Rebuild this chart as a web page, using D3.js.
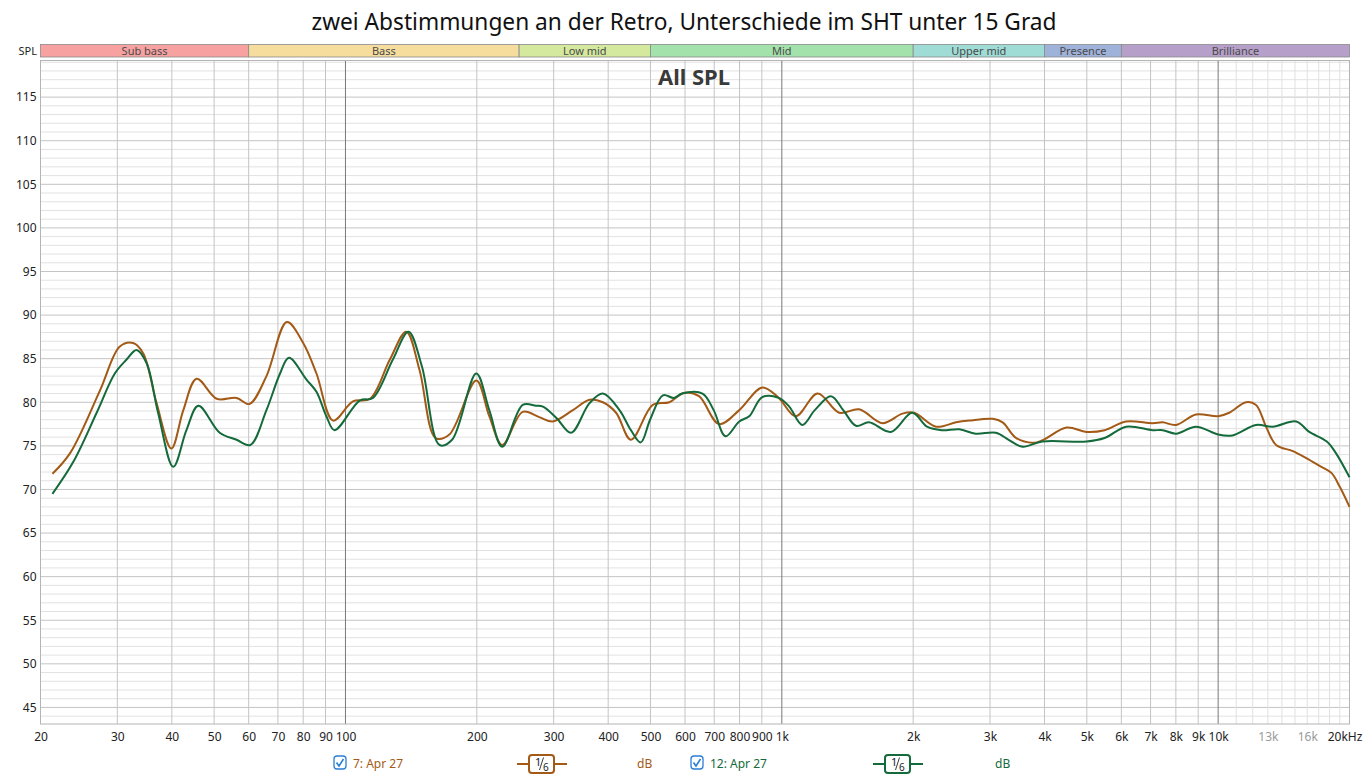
<!DOCTYPE html>
<html>
<head>
<meta charset="utf-8">
<script src="https://cdn.jsdelivr.net/npm/d3@7"></script>
<style>
  body { margin: 0; background: #fff; }
  svg { display: block; font-family: "Noto Sans", "Open Sans", sans-serif; }
</style>
</head>
<body>
<svg id="chart" width="1369" height="775"></svg>
<script>
// measurement 7: Apr 27 (orange)
const freqA = [21.3, 23.4, 27.4, 30.4, 32.6, 34.4, 36.9, 39.9, 42.5, 45.6, 50.7, 56.3, 60.2, 65.9, 73.4, 80, 85.8, 93.7,
  104, 113.8, 126.4, 137.8, 147.8, 161, 173, 199.4, 213.6, 228.7, 254.8, 278, 298.6, 332, 362.5, 389, 417, 451, 506,
  552, 598, 646, 718, 799, 902, 984, 1076, 1208, 1354, 1504, 1702, 1890, 2010, 2258, 2508, 2690, 3042, 3207, 3446,
  3843, 4492, 4991, 5492, 6152, 7078, 7464, 8006, 8894, 10000, 10600, 11590, 12212, 12877, 13578, 14830, 15920,
  17090, 18180, 19000, 20000];
const splA = [71.8, 74.2, 81.4, 86.4, 86.8, 85.6, 79.9, 74.7, 79.1, 82.7, 80.4, 80.5, 79.8, 83.0, 89.2, 86.8, 83.3, 77.9,
  80.1, 80.4, 84.9, 88.1, 83.7, 75.9, 76.3, 82.5, 78.4, 75.1, 78.9, 78.3, 77.8, 79.1, 80.3, 80.0, 78.8, 75.7, 79.7,
  80.0, 81.1, 80.7, 77.5, 79.1, 81.7, 80.5, 78.4, 81.0, 78.8, 79.2, 77.6, 78.7, 78.8, 77.2, 77.7, 77.9, 78.1, 77.7, 75.9,
  75.4, 77.1, 76.6, 76.8, 77.8, 77.6, 77.7, 77.4, 78.6, 78.4, 78.8, 80.0, 79.7, 77.2, 75.1, 74.4, 73.6,
  72.7, 71.9, 70.3, 68.0];

// measurement 12: Apr 27 (green)
const freqB = [21.3, 23.8, 26.9, 29.6, 31.5, 33.2, 35.0, 37.2, 40.3, 43.2, 46.0, 51.5, 56.3, 60.5, 65.9, 70.8, 74.2, 81.4,
  85.8, 90.4, 94.4, 107.8, 115.6, 128.4, 139.4, 149.7, 164.3, 175.5, 199.4, 213.6, 228.7, 254.8, 273.4, 283.5, 304.4,
  328.8, 362.5, 389, 424.6, 451, 475, 499, 534, 566, 591, 658, 698, 743, 799, 842, 902, 984, 1040, 1114, 1190, 1296,
  1383, 1479, 1584, 1778, 1990, 2152, 2324, 2552, 2782, 3094, 3310, 3560, 3952, 4991, 5492, 6152, 7078, 7464, 8006,
  8894, 10000, 10770, 12212, 13333, 15100, 16170, 17740, 18600, 20000];
const splB = [69.5, 73.2, 78.8, 83.3, 84.9, 86.0, 84.5, 78.8, 72.6, 76.8, 79.6, 76.5, 75.7, 75.1, 79.1, 83.3, 85.1, 82.6,
  81.2, 78.4, 76.8, 80.2, 80.5, 84.9, 88.1, 84.1, 75.1, 75.7, 83.3, 79.1, 74.9, 79.7, 79.6, 79.5, 78.2,
  76.5, 79.9, 81.0, 79.1, 76.8, 75.4, 78.0, 80.8, 80.5, 81.0, 81.0, 79.1, 76.1, 77.8, 78.4, 80.6, 80.5, 79.5, 77.4, 79.1, 80.7,
  79.1, 77.3, 77.7, 76.6, 78.8, 77.2, 76.8, 76.9, 76.4, 76.5, 75.7, 74.9, 75.5, 75.5, 75.9, 77.2, 76.8, 76.8, 76.4,
  77.2, 76.3, 76.2, 77.4, 77.2, 77.8, 76.6, 75.5, 74.2, 71.4];

// frequency bands shown above the plot
const bandNames = ["Sub bass", "Bass", "Low mid", "Mid", "Upper mid", "Presence", "Brilliance"];
const bandEdges = [20, 60, 250, 500, 2000, 4000, 6000, 20000];
const bandColors = ["#f7a1a1", "#f6dd9e", "#d4e89e", "#a3e2ab", "#9fdcd6", "#9fb2da", "#b6a0c9"];

const xTickValues = [20, 30, 40, 50, 60, 70, 80, 90, 100, 200, 300, 400, 500, 600, 700, 800, 900,
  1000, 2000, 3000, 4000, 5000, 6000, 7000, 8000, 9000, 10000, 13000, 16000, 20000];
const xTickLabels = ["20", "30", "40", "50", "60", "70", "80", "90", "100", "200", "300", "400", "500", "600", "700", "800", "900",
  "1k", "2k", "3k", "4k", "5k", "6k", "7k", "8k", "9k", "10k", "13k", "16k", "20kHz"];
const yTickValues = [45, 50, 55, 60, 65, 70, 75, 80, 85, 90, 95, 100, 105, 110, 115];

const colorA = "#a35a16", colorB = "#146a3b";

const svg = d3.select("#chart");
const plotLeft = 40.5, plotRight = 1349.5, plotTop = 60.5, plotBottom = 724;

const x = d3.scaleLog().domain([20, 20000]).range([plotLeft, plotRight]);
const y = d3.scaleLinear().domain([43.1, 119.2]).range([plotBottom, plotTop]);

// title
svg.append("text")
  .attr("x", 684).attr("y", 30)
  .attr("text-anchor", "middle")
  .attr("font-size", "22.7px")
  .attr("fill", "#111")
  .text("zwei Abstimmungen an der Retro, Unterschiede im SHT unter 15 Grad");

// band header
const bands = svg.append("g");
bandNames.forEach((name, i) => {
  const x0 = x(bandEdges[i]), x1 = x(bandEdges[i + 1]);
  bands.append("rect")
    .attr("x", x0).attr("y", 44.5)
    .attr("width", x1 - x0).attr("height", 12.5)
    .attr("fill", bandColors[i])
    .attr("stroke", "#8a8a8a").attr("stroke-width", 0.8);
  bands.append("text")
    .attr("x", (x0 + x1) / 2).attr("y", 54.5)
    .attr("text-anchor", "middle")
    .attr("font-size", "11px")
    .attr("fill", "#4a4a4a")
    .text(name);
});
svg.append("text")
  .attr("x", 37).attr("y", 54.5)
  .attr("text-anchor", "end")
  .attr("font-size", "11px")
  .attr("fill", "#222")
  .text("SPL");

// grid
const grid = svg.append("g");
d3.range(44, 120).forEach(v => {
  grid.append("line")
    .attr("x1", plotLeft).attr("x2", plotRight)
    .attr("y1", y(v)).attr("y2", y(v))
    .attr("stroke", v % 5 === 0 ? "#c4c4c4" : "#e2e2e2")
    .attr("stroke-width", 1);
});

const vLines = [];
[10, 100, 1000].forEach(d => d3.range(2, 10).forEach(m => vLines.push(m * d)));
vLines.push(100, 1000, 10000);
d3.range(11000, 20000, 1000).forEach(f => vLines.push(f));
vLines.filter(f => f > 20 && f < 20000).forEach(f => {
  let c = "#c4c4c4";
  if (f === 100 || f === 1000 || f === 10000) c = "#7a7a7a";
  else if (f > 10000) c = "#e0e0e0";
  grid.append("line")
    .attr("x1", x(f)).attr("x2", x(f))
    .attr("y1", plotTop).attr("y2", plotBottom)
    .attr("stroke", c).attr("stroke-width", 1);
});

svg.append("rect")
  .attr("x", plotLeft).attr("y", plotTop)
  .attr("width", plotRight - plotLeft).attr("height", plotBottom - plotTop)
  .attr("fill", "none")
  .attr("stroke", "#b4b4b4");

// axes
const xAxis = svg.append("g")
  .attr("transform", `translate(0,${plotBottom})`)
  .call(d3.axisBottom(x).tickValues(xTickValues).tickSize(0).tickPadding(8)
    .tickFormat((d, i) => xTickLabels[i]));
xAxis.select(".domain").remove();
xAxis.selectAll("text")
  .attr("font-size", "12px")
  .attr("font-family", "\"Noto Sans\", sans-serif")
  .attr("fill", d => (d === 13000 || d === 16000) ? "#9a9a9a" : "#222");
xAxis.selectAll(".tick").filter(d => d === 20000).select("text").attr("dx", "-5");

const yAxis = svg.append("g")
  .attr("transform", `translate(${plotLeft},0)`)
  .call(d3.axisLeft(y).tickValues(yTickValues).tickSize(0).tickPadding(4));
yAxis.select(".domain").remove();
yAxis.selectAll("text")
  .attr("font-size", "12px")
  .attr("font-family", "\"Noto Sans\", sans-serif")
  .attr("fill", "#222");

// overlay label
svg.append("text")
  .attr("x", 694).attr("y", 85)
  .attr("text-anchor", "middle")
  .attr("font-size", "22px")
  .attr("font-weight", "bold")
  .attr("fill", "#3a3a3a")
  .text("All SPL");

// curves
const line = d3.line()
  .x(d => x(d[0]))
  .y(d => y(d[1]))
  .curve(d3.curveCatmullRom.alpha(0.5));

svg.append("path")
  .datum(freqA.map((f, i) => [f, splA[i]]))
  .attr("d", line)
  .attr("fill", "none")
  .attr("stroke", colorA)
  .attr("stroke-width", 2);

svg.append("path")
  .datum(freqB.map((f, i) => [f, splB[i]]))
  .attr("d", line)
  .attr("fill", "none")
  .attr("stroke", colorB)
  .attr("stroke-width", 2);

// legend
function legendItem(x0, label, color, symX, dbX) {
  const g = svg.append("g");
  g.append("rect")
    .attr("x", x0).attr("y", 756)
    .attr("width", 12).attr("height", 13)
    .attr("rx", 3)
    .attr("fill", "#fff")
    .attr("stroke", "#2a7fd6").attr("stroke-width", 1.3);
  g.append("path")
    .attr("d", `M${x0 + 2.5},${762.5} L${x0 + 5},${766} L${x0 + 9.5},${759}`)
    .attr("fill", "none")
    .attr("stroke", "#2a7fd6").attr("stroke-width", 1.6);
  g.append("text")
    .attr("x", x0 + 19).attr("y", 768)
    .attr("font-size", "12px")
    .attr("fill", color)
    .text(label);

  g.append("line")
    .attr("x1", symX).attr("x2", symX + 50)
    .attr("y1", 764).attr("y2", 764)
    .attr("stroke", color).attr("stroke-width", 2);
  g.append("rect")
    .attr("x", symX + 12).attr("y", 755)
    .attr("width", 25).attr("height", 18)
    .attr("rx", 3)
    .attr("fill", "#fff")
    .attr("stroke", color).attr("stroke-width", 2);
  // smoothing fraction 1/6
  g.append("text")
    .attr("x", symX + 18).attr("y", 766)
    .attr("font-size", "11px").attr("fill", "#222")
    .text("1");
  g.append("line")
    .attr("x1", symX + 22.5).attr("y1", 770)
    .attr("x2", symX + 26.5).attr("y2", 757.5)
    .attr("stroke", "#222").attr("stroke-width", 0.9);
  g.append("text")
    .attr("x", symX + 26).attr("y", 770.5)
    .attr("font-size", "10px").attr("fill", "#222")
    .text("6");

  g.append("text")
    .attr("x", dbX).attr("y", 768)
    .attr("font-size", "12px")
    .attr("fill", color)
    .text("dB");
}

legendItem(334, "7: Apr 27", colorA, 517, 637);
legendItem(691, "12: Apr 27", colorB, 873, 995);
</script>
</body>
</html>
